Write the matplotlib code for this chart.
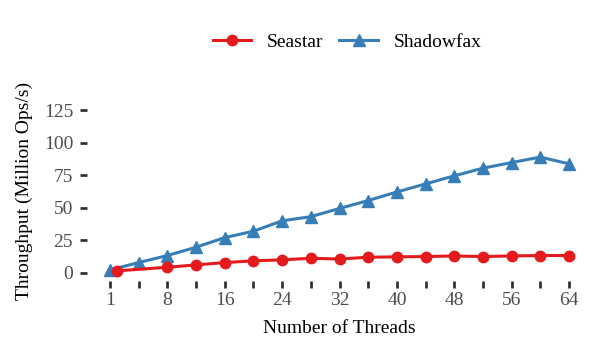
import matplotlib
matplotlib.use("Agg")
import matplotlib.pyplot as plt

plt.rcParams['font.family'] = ['Liberation Serif', 'DejaVu Serif']

# Data
shadowfax_x = [0, 4, 8, 12, 16, 20, 24, 28, 32, 36, 40, 44, 48, 52, 56, 60, 64]
shadowfax_y = [2.0, 7.7, 13.1, 19.5, 26.9, 31.8, 39.8, 43.0, 49.3, 55.4, 62.0, 68.2, 74.4, 80.3, 84.6, 88.8, 83.6]
seastar_x = [1, 8, 12, 16, 20, 24, 28, 32, 36, 40, 44, 48, 52, 56, 60, 64]
seastar_y = [1.3, 4.1, 5.9, 7.7, 9.0, 9.8, 11.0, 10.4, 11.8, 12.1, 12.3, 12.8, 12.3, 12.8, 13.1, 13.1]
x_ticks = list(range(0, 65, 4))
x_ticklabels = ['1', '', '8', '', '16', '', '24', '', '32', '', '40', '', '48', '', '56', '', '64']
y_ticks = [0, 25, 50, 75, 100, 125]

RED = '#E41A1C'
BLUE = '#377EB8'

fig = plt.figure(figsize=(6.08, 3.55), dpi=100)
ax = fig.add_axes([87/608, 74.3/355, (592-87)/608, (280.7-101.9)/355])

ax.plot(seastar_x, seastar_y, color=RED, lw=2.2, marker='o', ms=7.5, label='Seastar', zorder=3)
ax.plot(shadowfax_x, shadowfax_y, color=BLUE, lw=2.2, marker='^', ms=8.5, label='Shadowfax', zorder=2)

ax.set_xlim(-3.2, 67.2)
ax.set_ylim(-6.25, 131.25)
ax.set_xticks(x_ticks)
ax.set_xticklabels(x_ticklabels)
ax.set_yticks(y_ticks)

for s in ax.spines.values():
    s.set_visible(False)

ax.tick_params(axis='both', length=5, width=2, color='#333333', labelsize=14, labelcolor='#4D4D4D')
ax.tick_params(axis='x', pad=3)
ax.tick_params(axis='y', pad=5)

ax.set_xlabel('Number of Threads', fontsize=14, color='black', labelpad=8)
ax.set_ylabel('Throughput (Million Ops/s)', fontsize=14, color='black', labelpad=8)

fig.legend(loc='center', bbox_to_anchor=(347/608, 1 - 42/355), ncol=2, frameon=False,
           fontsize=14, handlelength=2.0, handletextpad=0.8, columnspacing=0.8)

fig.savefig('out.png', dpi=100, facecolor='white')
